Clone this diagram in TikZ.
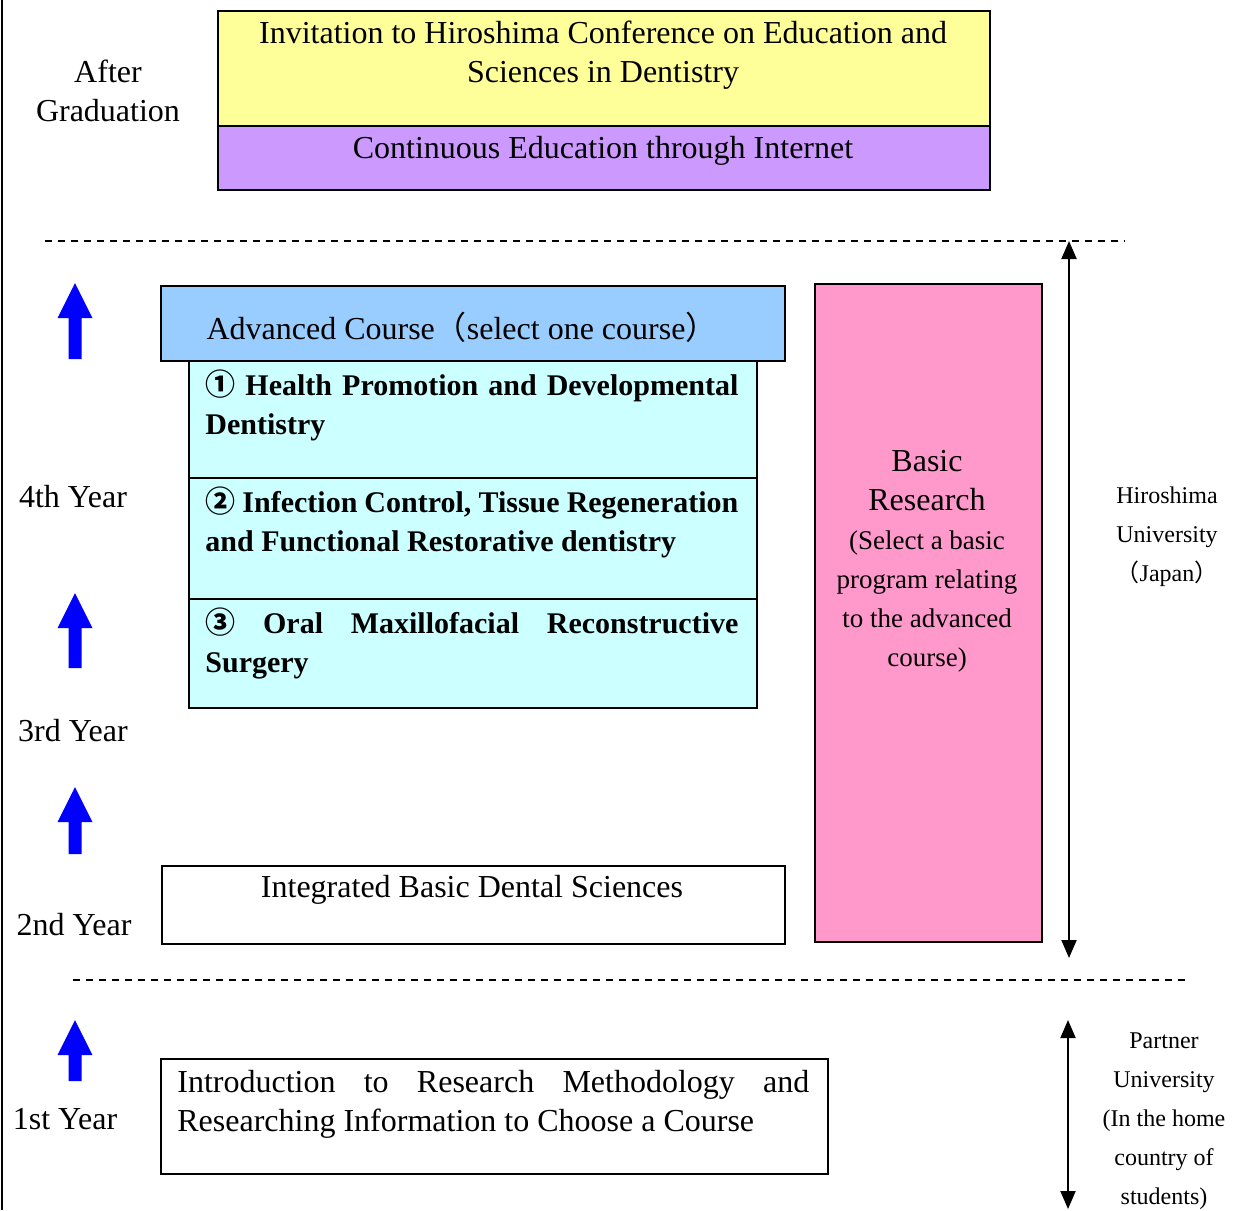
\documentclass[tikz,border=0pt]{standalone}
\usepackage{fontspec}
\setmainfont{Liberation Serif}
\newfontfamily\cjk{Noto Sans CJK JP}
\usetikzlibrary{arrows.meta}

\definecolor{yellowbox}{HTML}{FFFF99}
\definecolor{purplebox}{HTML}{CC99FF}
\definecolor{advblue}{HTML}{99CCFF}
\definecolor{coursecyan}{HTML}{CCFFFF}
\definecolor{researchpink}{HTML}{FF99CC}

\tikzset{
  box/.style={draw, line width=1pt, anchor=north west, inner sep=0pt},
  coursetext/.style={anchor=north west, inner sep=0pt, text width=266.5pt, align=justify,
    font=\fontsize{15}{19.5}\selectfont\bfseries},
  sidetext/.style={align=center, font=\fontsize{12}{19.5}\selectfont},
  dashline/.style={dash pattern=on 3.5pt off 3pt, line width=1.2pt},
  dblarrow/.style={{Triangle[length=9pt,width=7.5pt]}-{Triangle[length=9pt,width=7.5pt]}, line width=1pt}
}

\begin{document}
\begin{tikzpicture}[x=0.5pt, y=-0.5pt, font=\fontsize{16}{19.5}\selectfont]
    \useasboundingbox (0,0) rectangle (1234,1210);
    \draw [line width=1pt] (2,0) -- (2,1210);

    % after graduation
    \node [box, fill=yellowbox, minimum width=386pt, minimum height=57.5pt] (invite) at (217,10) {};
    \node [box, fill=purplebox, minimum width=386pt, minimum height=32pt] (internet) at (217,125) {};
    \node [align=center] (invitetxt) at (603,55) {Invitation to Hiroshima Conference on Education and\\Sciences in Dentistry};
    \node (internettxt) at (603,151) {Continuous Education through Internet};
    \node [align=center] (after) at (108,91) {After\\Graduation};

    \draw [dashline] (45,241) -- (1125,241);

    % advanced course
    \node [box, fill=advblue, minimum width=312pt, minimum height=37.5pt] (advanced) at (160,285) {};
    \node (advancedtxt) at (462,327) {Advanced Course{\cjk （}select one course{\cjk ）}};
    \node [box, fill=coursecyan, minimum width=284pt, minimum height=58.5pt] (health) at (188,360) {};
    \node [box, fill=coursecyan, minimum width=284pt, minimum height=60.5pt] (infection) at (188,477) {};
    \node [box, fill=coursecyan, minimum width=284pt, minimum height=54.5pt] (oral) at (188,598) {};
    \node [coursetext] (healthtxt) at (205,369) {{\cjk ①} Health Promotion and Developmental\linebreak Dentistry};
    \node [coursetext] (infectiontxt) at (205,486) {{\cjk ②} Infection Control, Tissue Regeneration\linebreak and Functional Restorative dentistry};
    \node [coursetext] (oraltxt) at (205,607) {{\cjk ③} Oral Maxillofacial Reconstructive\linebreak Surgery};

    \node [box, minimum width=311.5pt, minimum height=39pt] (integrated) at (161,865) {};
    \node (integratedtxt) at (472,890) {Integrated Basic Dental Sciences};

    % basic research
    \node [box, fill=researchpink, minimum width=113.5pt, minimum height=329pt] (research) at (814,283) {};
    \node [align=center] (researchtxt) at (927,561)
        {Basic\\Research\\{\fontsize{13.5}{19.5}\selectfont (Select a basic}\\{\fontsize{13.5}{19.5}\selectfont program relating}\\
         {\fontsize{13.5}{19.5}\selectfont to the advanced}\\{\fontsize{13.5}{19.5}\selectfont course)}};

    % hiroshima
    \coordinate (hirotop) at (1069,241);
    \coordinate (hirobot) at (1069,958);
    \draw [dblarrow] (hirotop) -- (hirobot);
    \node [sidetext] (hiroshima) at (1167,537) {Hiroshima\\University\\{\cjk （}Japan{\cjk ）}};

    \draw [dashline] (73,980) -- (1185,980);

    % partner university
    \coordinate (partnertop) at (1068,1020);
    \coordinate (partnerbot) at (1068,1209);
    \draw [dblarrow] (partnertop) -- (partnerbot);
    \node [sidetext] (partner) at (1164,1121) {Partner\\University\\(In the home\\country of\\students)};

    \node [box, minimum width=333.5pt, minimum height=57.5pt] (intro) at (160,1058) {};
    \node [anchor=north west, inner sep=0pt, text width=316pt, align=justify] (introtxt) at (177,1070)
        {Introduction to Research Methodology and\linebreak Researching Information to Choose a Course};

    % years
    \node (year4) at (73,497) {4th Year};
    \node (year3) at (73,731) {3rd Year};
    \node (year2) at (74,925) {2nd Year};
    \node (year1) at (65,1119) {1st Year};

    \foreach \t/\b in {283/359, 593/668, 787/854, 1020/1081}
        \fill [blue] (75,\t) -- (92.5,\t+35) -- (81.5,\t+35) -- (81.5,\b) -- (68.5,\b) -- (68.5,\t+35) -- (57.5,\t+35) -- cycle;
\end{tikzpicture}
\end{document}
